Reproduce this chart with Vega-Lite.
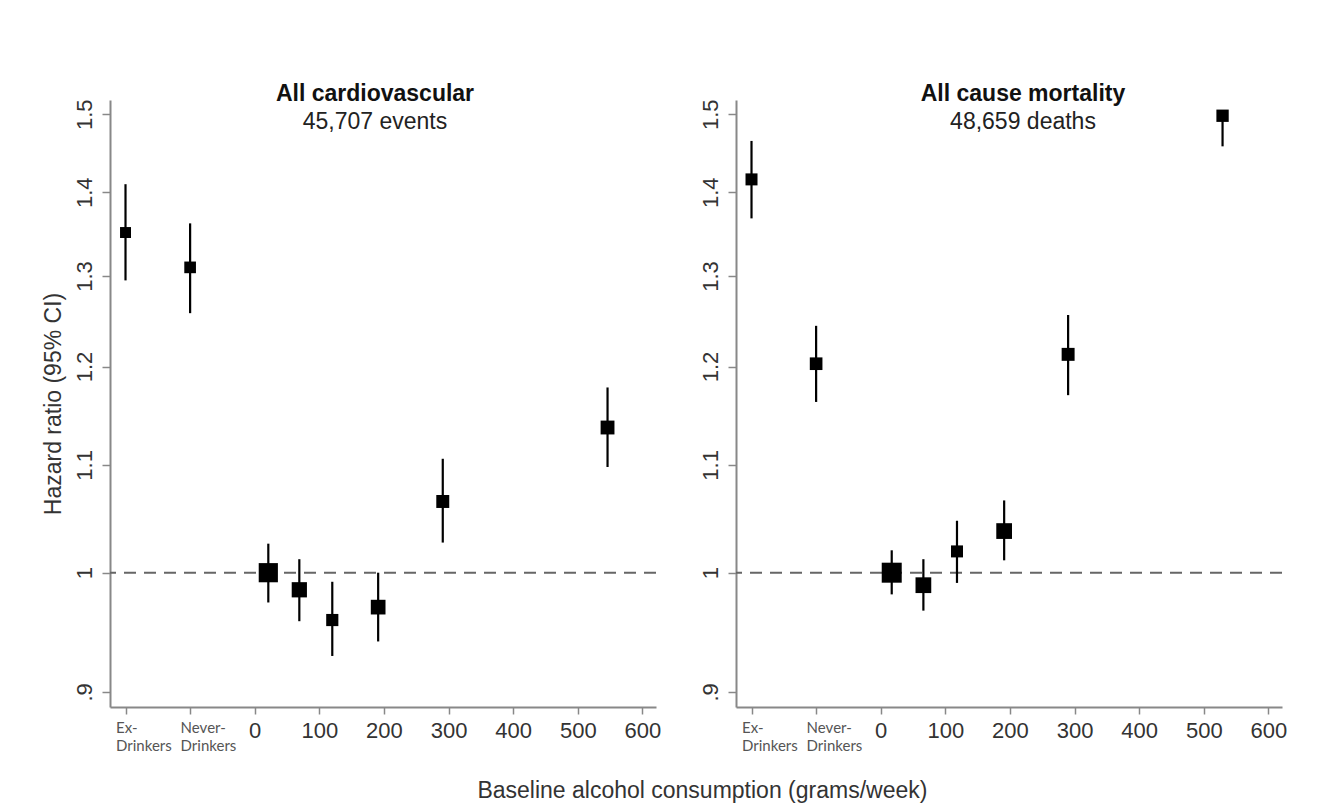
{
  "$schema": "https://vega.github.io/schema/vega-lite/v6.json",
  "padding": {"left": 42, "top": 82, "right": 10, "bottom": 5},
  "spacing": 38,
  "background": "white",
  "title": {"text": "Baseline alcohol consumption (grams/week)", "orient": "bottom", "anchor": "middle", "fontSize": 23, "fontWeight": "normal", "font": "Liberation Sans", "color": "#333333", "offset": 27, "dx": 38},
  "datasets": {
    "points": [
      {"outcome": "cvd", "group": "Ex-drinkers", "alcohol": -200, "hr": 1.351, "lo": 1.295, "hi": 1.410, "weight": 0.30},
      {"outcome": "cvd", "group": "Never-drinkers", "alcohol": -100, "hr": 1.310, "lo": 1.258, "hi": 1.362, "weight": 0.34},
      {"outcome": "cvd", "group": "0-50 (reference)", "alcohol": 21, "hr": 1.000, "lo": 0.974, "hi": 1.026, "weight": 0.92},
      {"outcome": "cvd", "group": "50-100", "alcohol": 69, "hr": 0.985, "lo": 0.958, "hi": 1.012, "weight": 0.58},
      {"outcome": "cvd", "group": "100-150", "alcohol": 120, "hr": 0.959, "lo": 0.929, "hi": 0.992, "weight": 0.37},
      {"outcome": "cvd", "group": "150-250", "alcohol": 191, "hr": 0.970, "lo": 0.941, "hi": 1.000, "weight": 0.54},
      {"outcome": "cvd", "group": "250-350", "alcohol": 291, "hr": 1.065, "lo": 1.027, "hi": 1.106, "weight": 0.42},
      {"outcome": "cvd", "group": ">350", "alcohol": 546, "hr": 1.137, "lo": 1.098, "hi": 1.178, "weight": 0.48},
      {"outcome": "all", "group": "Ex-drinkers", "alcohol": -200, "hr": 1.416, "lo": 1.368, "hi": 1.465, "weight": 0.36},
      {"outcome": "all", "group": "Never-drinkers", "alcohol": -100, "hr": 1.203, "lo": 1.163, "hi": 1.244, "weight": 0.40},
      {"outcome": "all", "group": "0-50 (reference)", "alcohol": 17, "hr": 1.000, "lo": 0.981, "hi": 1.020, "weight": 1.0},
      {"outcome": "all", "group": "50-100", "alcohol": 66, "hr": 0.989, "lo": 0.967, "hi": 1.012, "weight": 0.62},
      {"outcome": "all", "group": "100-150", "alcohol": 118, "hr": 1.019, "lo": 0.991, "hi": 1.047, "weight": 0.36},
      {"outcome": "all", "group": "150-250", "alcohol": 191, "hr": 1.0375, "lo": 1.011, "hi": 1.066, "weight": 0.62},
      {"outcome": "all", "group": "250-350", "alcohol": 290, "hr": 1.213, "lo": 1.170, "hi": 1.256, "weight": 0.42},
      {"outcome": "all", "group": ">350", "alcohol": 529, "hr": 1.498, "lo": 1.458, "hi": 1.505, "weight": 0.38}
    ],
    "reference": [{"hr": 1}]
  },
  "hconcat": [
    {
      "width": 546,
      "height": 607,
      "title": {"text": "All cardiovascular", "subtitle": "45,707 events", "offset": -35, "dx": -8},
      "layer": [
        {
          "data": {"name": "reference"},
          "mark": {"type": "rule", "color": "#666666", "strokeWidth": 2, "strokeDash": [12, 8]},
          "encoding": {
            "y": {"field": "hr", "type": "quantitative", "scale": {"type": "log", "domain": [0.888, 1.519], "nice": false, "zero": false}}
          }
        },
        {
          "data": {"name": "points"},
          "transform": [{"filter": "datum.outcome == 'cvd'"}],
          "mark": {"type": "rule", "color": "black", "strokeWidth": 2.2},
          "encoding": {
            "x": {"field": "alcohol", "type": "quantitative", "scale": {"domain": [-224, 621], "nice": false, "zero": false}},
            "y": {"field": "lo", "type": "quantitative", "scale": {"type": "log", "domain": [0.888, 1.519], "nice": false, "zero": false}},
            "y2": {"field": "hi"}
          }
        },
        {
          "data": {"name": "points"},
          "transform": [{"filter": "datum.outcome == 'cvd'"}],
          "mark": {"type": "point", "shape": "square", "filled": true, "color": "black", "opacity": 1},
          "encoding": {
            "x": {"field": "alcohol", "type": "quantitative", "scale": {"domain": [-224, 621], "nice": false, "zero": false},
              "axis": {"title": null, "values": [-200, -100, 0, 100, 200, 300, 400, 500, 600], "format": "d",
                "labelExpr": "datum.value == -200 ? ['Ex-', 'Drinkers'] : datum.value == -100 ? ['Never-', 'Drinkers'] : datum.label"}},
            "y": {"field": "hr", "type": "quantitative", "scale": {"type": "log", "domain": [0.888, 1.519], "nice": false, "zero": false},
              "axis": {"title": "Hazard ratio (95% CI)", "values": [0.9, 1, 1.1, 1.2, 1.3, 1.4, 1.5],
                "labelExpr": "datum.value < 0.95 ? '.9' : format(datum.value, '~g')"}},
            "size": {"field": "weight", "type": "quantitative", "scale": {"domain": [0, 1], "range": [0, 400]}, "legend": null}
          }
        }
      ]
    },
    {
      "width": 546,
      "height": 607,
      "title": {"text": "All cause mortality", "subtitle": "48,659 deaths", "offset": -35, "dx": 14},
      "layer": [
        {
          "data": {"name": "reference"},
          "mark": {"type": "rule", "color": "#666666", "strokeWidth": 2, "strokeDash": [12, 8]},
          "encoding": {
            "y": {"field": "hr", "type": "quantitative", "scale": {"type": "log", "domain": [0.888, 1.519], "nice": false, "zero": false}}
          }
        },
        {
          "data": {"name": "points"},
          "transform": [{"filter": "datum.outcome == 'all'"}],
          "mark": {"type": "rule", "color": "black", "strokeWidth": 2.2},
          "encoding": {
            "x": {"field": "alcohol", "type": "quantitative", "scale": {"domain": [-224, 621], "nice": false, "zero": false}},
            "y": {"field": "lo", "type": "quantitative", "scale": {"type": "log", "domain": [0.888, 1.519], "nice": false, "zero": false}},
            "y2": {"field": "hi"}
          }
        },
        {
          "data": {"name": "points"},
          "transform": [{"filter": "datum.outcome == 'all'"}],
          "mark": {"type": "point", "shape": "square", "filled": true, "color": "black", "opacity": 1},
          "encoding": {
            "x": {"field": "alcohol", "type": "quantitative", "scale": {"domain": [-224, 621], "nice": false, "zero": false},
              "axis": {"title": null, "values": [-200, -100, 0, 100, 200, 300, 400, 500, 600], "format": "d",
                "labelExpr": "datum.value == -200 ? ['Ex-', 'Drinkers'] : datum.value == -100 ? ['Never-', 'Drinkers'] : datum.label"}},
            "y": {"field": "hr", "type": "quantitative", "scale": {"type": "log", "domain": [0.888, 1.519], "nice": false, "zero": false},
              "axis": {"title": null, "values": [0.9, 1, 1.1, 1.2, 1.3, 1.4, 1.5],
                "labelExpr": "datum.value < 0.95 ? '.9' : format(datum.value, '~g')"}},
            "size": {"field": "weight", "type": "quantitative", "scale": {"domain": [0, 1], "range": [0, 400]}, "legend": null}
          }
        }
      ]
    }
  ],
  "config": {
    "font": "Liberation Sans",
    "view": {"stroke": null},
    "title": {"fontSize": 23, "fontWeight": "bold", "color": "#111111", "font": "Liberation Sans", "subtitleFontSize": 23, "subtitleColor": "#222222", "subtitleFont": "Liberation Sans", "subtitlePadding": 5, "anchor": "middle"},
    "axis": {
      "grid": false,
      "domainColor": "#888888",
      "domainWidth": 2,
      "tickColor": "#888888",
      "tickWidth": 1.5,
      "labelColor": "#333333",
      "labelFont": "Liberation Sans",
      "labelFontSize": 22,
      "titleFont": "Liberation Sans",
      "titleFontSize": 23,
      "titleFontWeight": "normal",
      "titleColor": "#333333",
      "labelOverlap": false,
      "labelFlush": false
    },
    "axisY": {
      "tickSize": 8,
      "labelAngle": -90,
      "labelPadding": 6,
      "titlePadding": 8
    },
    "axisX": {
      "tickSize": 7,
      "labelPadding": 6,
      "labelLineHeight": 18,
      "labelFontSize": {"condition": {"test": "datum.value < 0", "value": 15}, "value": 22},
      "labelFont": {"condition": {"test": "datum.value < 0", "value": "Lato"}, "value": "Liberation Sans"},
      "labelAlign": {"condition": {"test": "datum.value < 0", "value": "left"}, "value": "center"},
      "labelOffset": {"condition": {"test": "datum.value < 0", "value": -10}, "value": 0},
      "labelColor": {"condition": {"test": "datum.value < 0", "value": "#555555"}, "value": "#333333"}
    }
  }
}
